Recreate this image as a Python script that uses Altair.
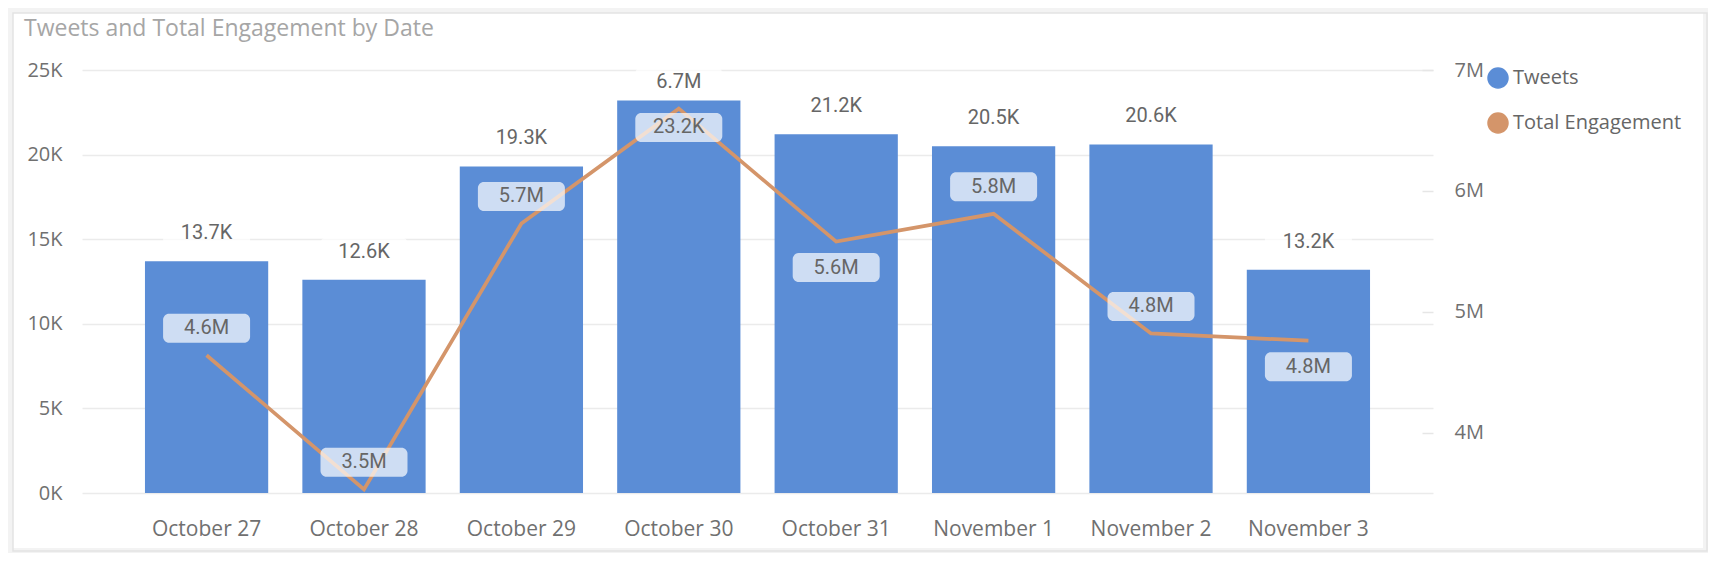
import altair as alt
import pandas as pd

# ---------------- data ----------------
dates = ["October 27", "October 28", "October 29", "October 30",
         "October 31", "November 1", "November 2", "November 3"]
tweets = [13700, 12600, 19300, 23200, 21200, 20500, 20600, 13200]
engagement = [4.64e6, 3.53e6, 5.73e6, 6.68e6, 5.58e6, 5.81e6, 4.82e6, 4.76e6]
bar_label_place = ["above", "above", "above", "inside", "above", "above", "above", "above"]
line_label_place = ["above", "above", "above", "above", "below", "above", "above", "below"]
series = ["Tweets", "Total Engagement"]
left_ticks = [0, 5000, 10000, 15000, 20000, 25000]
right_ticks = [4e6, 5e6, 6e6, 7e6]
title_text = "Tweets and Total Engagement by Date"

df = pd.DataFrame({
    "date": dates,
    "tweets": tweets,
    "engagement": engagement,
    "bar_place": bar_label_place,
    "line_place": line_label_place,
})

# ---------------- styles ----------------
BLUE = "#5b8dd6"
ORANGE = "#d4956a"
AXIS_FONT = "Open Sans"
LABEL_FONT = "Roboto"
AXIS_COLOR = "#707070"
LABEL_COLOR = "#666666"

base = alt.Chart(df)

x_enc = alt.X(
    "date:N", sort=dates, title=None,
    scale=alt.Scale(paddingInner=0.217, paddingOuter=0.40),
    axis=alt.Axis(labelAngle=0, labelFont=AXIS_FONT, labelFontSize=21,
                  labelColor=AXIS_COLOR, labelPadding=42, labelBaseline="alphabetic",
                  ticks=False, tickSize=0, domain=False, grid=False),
)

left_scale = alt.Scale(domain=[0, 25000], nice=False, zero=True)
right_scale = alt.Scale(domain=[3.5e6, 7e6], nice=False, zero=False)

y_bar = alt.Y(
    "tweets:Q", scale=left_scale, title=None,
    axis=alt.Axis(orient="left", values=left_ticks,
                  labelExpr="datum.value / 1000 + 'K'",
                  labelFont=AXIS_FONT, labelFontSize=20, labelColor=AXIS_COLOR,
                  labelPadding=20, ticks=False, tickSize=0, domain=False,
                  grid=True, gridColor="#ebebeb", gridWidth=1.5),
)
y_line = alt.Y(
    "engagement:Q", scale=right_scale, title=None,
    axis=alt.Axis(orient="right", values=right_ticks,
                  labelExpr="datum.value / 1000000 + 'M'",
                  labelFont=AXIS_FONT, labelFontSize=20, labelColor=AXIS_COLOR,
                  ticks=True, tickSize=11, tickColor="#e6e6e6", tickWidth=1.5,
                  offset=-11, labelPadding=21, domain=False, grid=False),
)
y_bar_na = alt.Y("tweets:Q", scale=left_scale, axis=None)
y_line_na = alt.Y("engagement:Q", scale=right_scale, axis=None)

color_scale = alt.Scale(domain=series, range=[BLUE, ORANGE])
legend = alt.Legend(orient="none", legendX=1405, legendY=-3, title=None,
                    symbolType="circle", symbolSize=400, labelLimit=0,
                    labelFont=AXIS_FONT, labelFontSize=20, labelColor=LABEL_COLOR,
                    rowPadding=19, labelOffset=4, padding=0)

bars = base.transform_calculate(series=f"'{series[0]}'").mark_bar().encode(
    x=x_enc, y=y_bar,
    color=alt.Color("series:N", scale=color_scale, legend=legend),
)
line = base.transform_calculate(series=f"'{series[1]}'").mark_line(strokeWidth=3.7).encode(
    x=x_enc, y=y_line,
    color=alt.Color("series:N", scale=color_scale, legend=legend),
)


def label_pair(field_place, place, ychan, offset, text_expr):
    src = base.transform_filter(alt.datum[field_place] == place).transform_calculate(
        lbl=text_expr)
    box = src.mark_rect(width=87, height=29, cornerRadius=6, fill="white",
                        opacity=0.7, yOffset=offset).encode(x=x_enc, y=ychan)
    txt = src.mark_text(font=LABEL_FONT, fontSize=20, color=LABEL_COLOR,
                        baseline="middle", yOffset=offset).encode(
        x=x_enc, y=ychan, text="lbl:N")
    return box, txt


bar_fmt = "format(datum.tweets / 1000, '.1f') + 'K'"
line_fmt = "format(datum.engagement / 1000000, '.1f') + 'M'"
b1, t1 = label_pair("bar_place", "above", y_bar_na, -28, bar_fmt)
b2, t2 = label_pair("bar_place", "inside", y_bar_na, 27, bar_fmt)
b3, t3 = label_pair("line_place", "above", y_line_na, -27, line_fmt)
b4, t4 = label_pair("line_place", "below", y_line_na, 26, line_fmt)

one = alt.Data(values=[{"t": title_text}])
title = alt.Chart(one).mark_text(align="left", baseline="alphabetic", font=AXIS_FONT,
                                 fontSize=23, color="#a6a6a6").encode(
    x=alt.value(-58), y=alt.value(-34), text="t:N")

grey_band = alt.Chart(one).mark_rect(fill="transparent", stroke="#f3f3f3",
                                     strokeWidth=10).encode(
    x=alt.value(-74), x2=alt.value(1626), y=alt.value(-62), y2=alt.value(483))
frame = alt.Chart(one).mark_rect(fill="transparent", stroke="#e3e3e3",
                                 strokeWidth=1.5).encode(
    x=alt.value(-69), x2=alt.value(1625), y=alt.value(-57), y2=alt.value(481))

chart = alt.layer(
    grey_band, frame, title, bars, line, b1, t1, b2, t2, b3, t3, b4, t4
).resolve_scale(y="independent").properties(
    width=1351, height=423,
    autosize=alt.AutoSizeParams(type="none"),
    padding={"left": 74, "top": 62, "right": 275, "bottom": 60},
    background="white",
).configure_view(strokeWidth=0)

chart.save("out.html", embed_options={"renderer": "svg", "actions": False})
